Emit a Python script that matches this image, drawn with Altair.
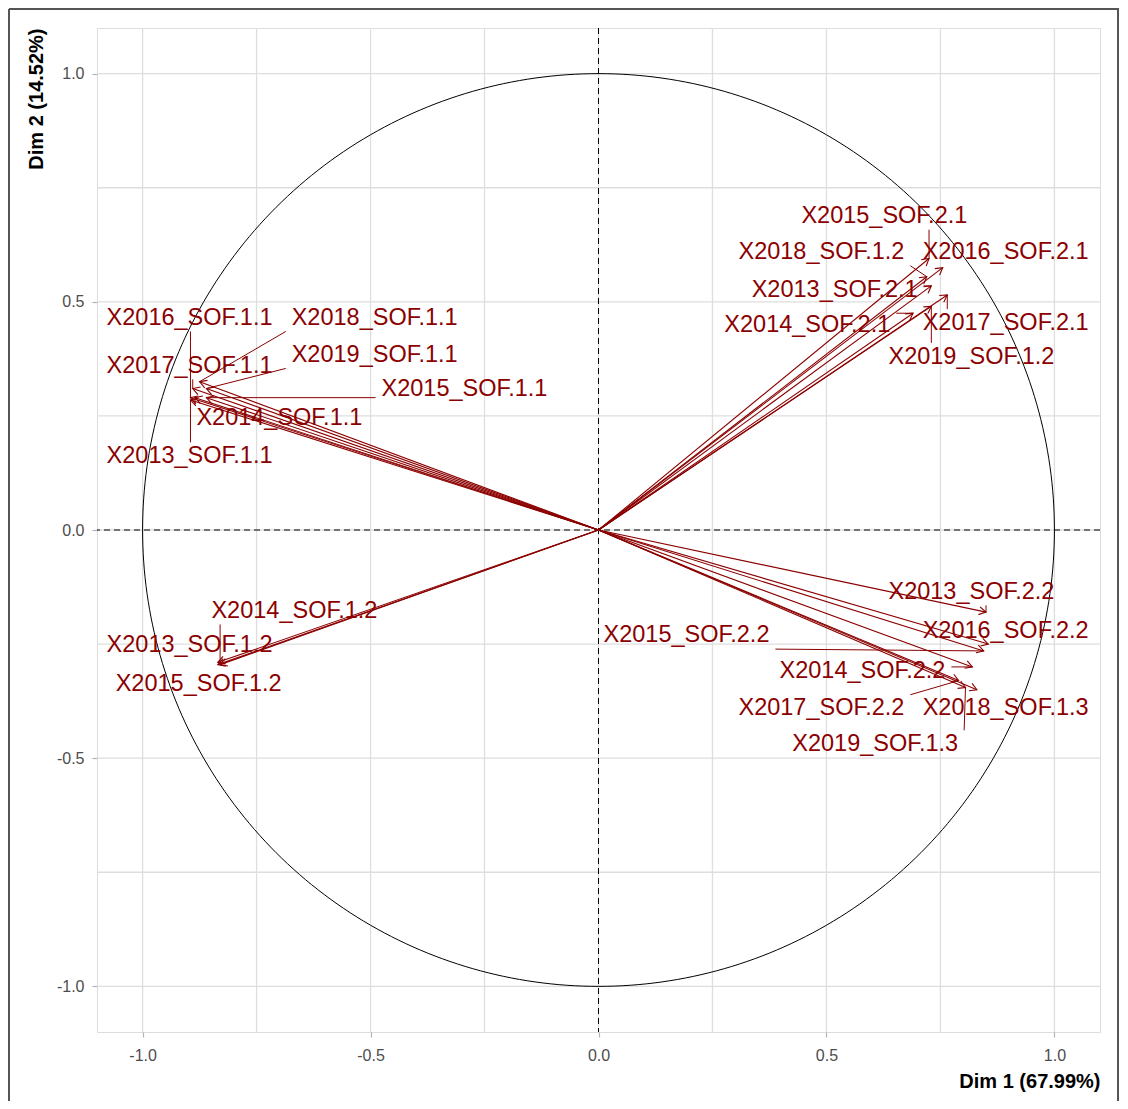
import altair as alt
import numpy as np
import pandas as pd

# ---- data ----
names = [
    "X2013_SOF.1.1", "X2014_SOF.1.1", "X2015_SOF.1.1", "X2016_SOF.1.1",
    "X2017_SOF.1.1", "X2018_SOF.1.1", "X2019_SOF.1.1",
    "X2013_SOF.2.1", "X2014_SOF.2.1", "X2015_SOF.2.1", "X2016_SOF.2.1",
    "X2017_SOF.2.1", "X2018_SOF.1.2", "X2019_SOF.1.2",
    "X2013_SOF.2.2", "X2014_SOF.2.2", "X2015_SOF.2.2", "X2016_SOF.2.2",
    "X2017_SOF.2.2", "X2018_SOF.1.3", "X2019_SOF.1.3",
    "X2013_SOF.1.2", "X2014_SOF.1.2", "X2015_SOF.1.2",
]
dim1 = [
    -0.895, -0.885, -0.860, -0.895, -0.890, -0.875, -0.860,
    0.730, 0.690, 0.725, 0.755, 0.765, 0.720, 0.730,
    0.850, 0.820, 0.845, 0.855, 0.790, 0.830, 0.805,
    -0.835, -0.830, -0.835,
]
dim2 = [
    0.285, 0.290, 0.290, 0.290, 0.310, 0.325, 0.310,
    0.535, 0.475, 0.595, 0.575, 0.515, 0.555, 0.490,
    -0.180, -0.300, -0.265, -0.250, -0.330, -0.350, -0.345,
    -0.290, -0.295, -0.295,
]
# repelled label positions (label centres)
label_x = [
    -0.897, -0.700, -0.294, -0.897, -0.897, -0.491, -0.491,
    0.518, 0.458, 0.627, 0.893, 0.893, 0.489, 0.818,
    0.818, 0.579, 0.193, 0.893, 0.489, 0.893, 0.607,
    -0.897, -0.667, -0.877,
]
label_y = [
    0.162, 0.245, 0.308, 0.465, 0.360, 0.465, 0.384,
    0.526, 0.450, 0.688, 0.609, 0.454, 0.609, 0.380,
    -0.135, -0.308, -0.231, -0.221, -0.391, -0.391, -0.469,
    -0.253, -0.177, -0.338,
]
tick_values = [-1.0, -0.5, 0.0, 0.5, 1.0]
grid_values = [-1.0, -0.75, -0.5, -0.25, 0.0, 0.25, 0.5, 0.75, 1.0]
x_title = "Dim 1 (67.99%)"
y_title = "Dim 2 (14.52%)"

DARKRED = "#8B0000"
FONT = "Liberation Sans"

df = pd.DataFrame({"name": names, "x": dim1, "y": dim2,
                   "lx": label_x, "ly": label_y})
df["x0"] = 0.0
df["y0"] = 0.0
df["ang"] = (np.degrees(np.arctan2(df["x"], df["y"])) + 360) % 360

# ggrepel-like connector: from nearest point of label box to the data point
hw, hh = 0.195, 0.030
df["sx"] = np.clip(df["x"], df["lx"] - hw, df["lx"] + hw)
df["sy"] = np.clip(df["y"], df["ly"] - hh, df["ly"] + hh)
seg_len = np.hypot((df["sx"] - df["x"]) * 456, (df["sy"] - df["y"]) * 457)
seg = df[seg_len > 6].copy()

theta = np.linspace(0, 2 * np.pi, 361)
circle = pd.DataFrame({"cx": np.cos(theta), "cy": np.sin(theta), "o": np.arange(361)})
grid = pd.DataFrame({"v": grid_values})

xs = alt.Scale(domain=[-1.1, 1.1], nice=False, zero=False)
ys = alt.Scale(domain=[-1.1, 1.1], nice=False, zero=False)

minus_fix = "replace(datum.label, '\u2212', '-')"

def make_axis(title, label_pad, title_pad):
    return alt.Axis(values=tick_values, format=".1f", labelExpr=minus_fix,
                    grid=False, domain=False, tickColor="#b3b3b3", tickSize=5,
                    tickWidth=1.2, labelColor="#4d4d4d", labelFontSize=16,
                    labelFont=FONT, labelPadding=label_pad, title=title, titleFont=FONT,
                    titleFontSize=20, titleFontWeight="bold", titleColor="black",
                    titleAnchor="end", titlePadding=title_pad)

XA = make_axis(x_title, 10, 8)
YA = make_axis(y_title, 8, 10)

grid_x = alt.Chart(grid).mark_rule(color="#dedede", strokeWidth=1.3).encode(
    x=alt.X("v:Q", scale=xs, axis=XA))
grid_y = alt.Chart(grid).mark_rule(color="#dedede", strokeWidth=1.3).encode(
    y=alt.Y("v:Q", scale=ys, axis=YA))

zero = pd.DataFrame({"v": [0.0]})
zero_x = alt.Chart(zero).mark_rule(color="black", strokeDash=[6, 4], strokeWidth=1).encode(
    x=alt.X("v:Q", scale=xs, axis=XA))
zero_y = alt.Chart(zero).mark_rule(color="black", strokeDash=[6, 4], strokeWidth=1).encode(
    y=alt.Y("v:Q", scale=ys, axis=YA))

circ = alt.Chart(circle).mark_line(color="black", strokeWidth=1).encode(
    x=alt.X("cx:Q", scale=xs, axis=XA),
    y=alt.Y("cy:Q", scale=ys, axis=YA),
    order="o:Q")

arrows = alt.Chart(df).mark_rule(color=DARKRED, strokeWidth=1.1).encode(
    x=alt.X("x0:Q", scale=xs, axis=XA), y=alt.Y("y0:Q", scale=ys, axis=YA),
    x2="x:Q", y2="y:Q")

chevron = "M-0.5,0.866L0,0L0.5,0.866"
heads = alt.Chart(df).mark_point(shape=chevron, filled=False, color=DARKRED,
                                 strokeWidth=1.1, opacity=1, size=256).encode(
    x=alt.X("x:Q", scale=xs, axis=XA), y=alt.Y("y:Q", scale=ys, axis=YA),
    angle=alt.Angle("ang:Q", scale=None))

segs = alt.Chart(seg).mark_rule(color=DARKRED, strokeWidth=1).encode(
    x=alt.X("sx:Q", scale=xs, axis=XA), y=alt.Y("sy:Q", scale=ys, axis=YA),
    x2="x:Q", y2="y:Q")

labels = alt.Chart(df).mark_text(font=FONT, fontSize=23.5, color=DARKRED,
                                 align="center", baseline="middle").encode(
    x=alt.X("lx:Q", scale=xs, axis=XA), y=alt.Y("ly:Q", scale=ys, axis=YA),
    text="name:N")

one = pd.DataFrame({"a": [0]})
frame_col = "#555555"
frame_l = alt.Chart(one).mark_rule(color=frame_col, strokeWidth=2).encode(
    x=alt.value(-88), y=alt.value(-19), y2=alt.value(1080))
frame_t = alt.Chart(one).mark_rule(color=frame_col, strokeWidth=2).encode(
    x=alt.value(-88), x2=alt.value(1022), y=alt.value(-19))
frame_r = alt.Chart(one).mark_rule(color=frame_col, strokeWidth=2).encode(
    x=alt.value(1021), y=alt.value(-19), y2=alt.value(1080))

chart = alt.layer(
    grid_x, grid_y, zero_x, zero_y, circ, arrows, heads, segs, labels,
    frame_l, frame_t, frame_r,
).properties(
    width=1003, height=1004,
    autosize=alt.AutoSizeParams(type="none"),
    padding={"left": 89, "top": 20, "right": 20, "bottom": 69},
).configure_view(
    stroke="#b3b3b3", strokeWidth=1.3
).configure(background="white")

chart.save("out.html", embed_options={"renderer": "svg", "actions": False})
